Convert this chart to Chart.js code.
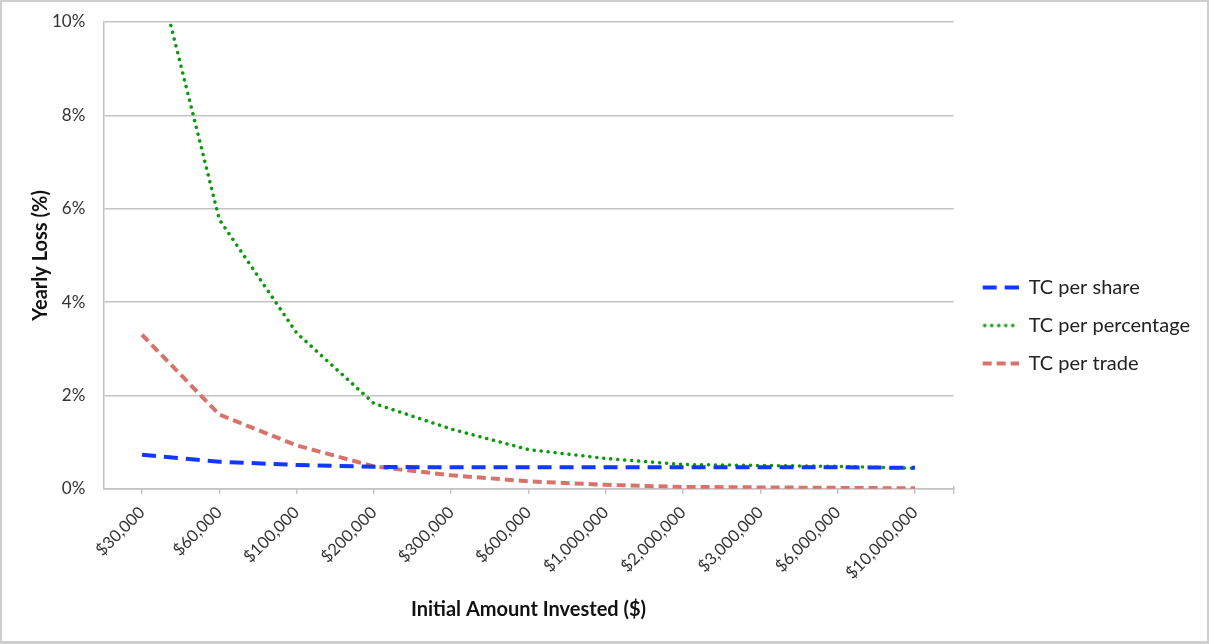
<!DOCTYPE html>
<html>
<head>
<meta charset="utf-8">
<title>Yearly Loss by Initial Amount Invested</title>
<script src="https://cdn.jsdelivr.net/npm/chart.js@4/dist/chart.umd.min.js"></script>
<style>
  html, body { margin: 0; padding: 0; background: #fff; }
  #wrap { position: relative; width: 1209px; height: 644px; }
  #frame {
    position: absolute; left: 0; top: 0; right: 0; bottom: 0;
    border: 2px solid #cfcfcf; border-bottom-width: 3px;
    box-sizing: border-box; pointer-events: none;
  }
</style>
</head>
<body>
<div id="wrap">
  <canvas id="lossChart" width="1209" height="644"></canvas>
  <div id="frame"></div>
</div>
<script>
// initial amounts (x categories)
const amounts = ['$30,000', '$60,000', '$100,000', '$200,000', '$300,000', '$600,000',
                 '$1,000,000', '$2,000,000', '$3,000,000', '$6,000,000', '$10,000,000'];

// yearly loss in percent for each cost model
const perShare      = [0.73, 0.58, 0.51, 0.47, 0.46, 0.46, 0.46, 0.46, 0.46, 0.46, 0.45];
const perPercentage = [12.4, 5.77, 3.34, 1.83, 1.28, 0.84, 0.65, 0.52, 0.50, 0.48, 0.44];
const perTrade      = [3.30, 1.59, 0.93, 0.48, 0.29, 0.16, 0.085, 0.04, 0.03, 0.02, 0.01];

// y axis ticks (%)
const yTicks = [0, 2, 4, 6, 8, 10];

const FONT = 'Lato, "Open Sans", sans-serif';
const GRID = '#c3c3c3';

// legend swatch: blank strip on the left (keeps the legend clear of the plot),
// then a short piece of line with the series dash
const SWATCH_GAP = 11;
const SWATCH_LEN = 36;

function lineSample(color, dash, width, cap) {
    const c = document.createElement('canvas');
    c.width = SWATCH_GAP + SWATCH_LEN;
    c.height = 8;
    const g = c.getContext('2d');
    g.strokeStyle = color;
    g.lineWidth = width;
    g.lineCap = cap;
    g.setLineDash(dash);
    g.beginPath();
    g.moveTo(SWATCH_GAP + (cap === 'round' ? 2 : 0), 4);
    g.lineTo(c.width, 4);
    g.stroke();
    return c;
}

const series = [
    { label: 'TC per share',      data: perShare,      color: '#1238ff', dash: [14, 8],    width: 4,   cap: 'butt' },
    { label: 'TC per percentage', data: perPercentage, color: '#0b9a0b', dash: [0.1, 6.9], width: 3.5, cap: 'round' },
    { label: 'TC per trade',      data: perTrade,      color: '#d8736b', dash: [9, 5],     width: 4,   cap: 'butt' }
];

const datasets = series.map(s => ({
    label: s.label,
    data: s.data,
    borderColor: s.color,
    backgroundColor: s.color,
    borderWidth: s.width,
    borderDash: s.dash,
    borderCapStyle: s.cap,
    pointRadius: 0,
    pointHoverRadius: 0,
    tension: 0,
    fill: false,
    pointStyle: lineSample(s.color, s.dash, s.width, s.cap)
}));

// closing tick at the right end of the x axis
const endTick = {
    id: 'endTick',
    afterDraw(chart) {
        const { ctx, chartArea } = chart;
        ctx.save();
        ctx.strokeStyle = GRID;
        ctx.lineWidth = 1.5;
        ctx.beginPath();
        ctx.moveTo(chartArea.right, chartArea.bottom - 3);
        ctx.lineTo(chartArea.right, chartArea.bottom + 5);
        ctx.stroke();
        ctx.restore();
    }
};

new Chart(document.getElementById('lossChart'), {
    type: 'line',
    data: { labels: amounts, datasets: datasets },
    options: {
        responsive: false,
        animation: false,
        layout: { padding: { top: 3, left: 29, right: 9, bottom: 22 } },
        plugins: {
            tooltip: { enabled: false },
            legend: {
                position: 'right',
                align: 'center',
                // empty title only pushes the entries down a little
                title: { display: true, text: '', padding: 0, font: { size: 10, lineHeight: 2.6 } },
                labels: {
                    usePointStyle: true,
                    pointStyleWidth: SWATCH_GAP + SWATCH_LEN,
                    padding: 18,
                    color: '#222',
                    font: { family: FONT, size: 20 }
                }
            }
        },
        scales: {
            x: {
                offset: true,
                grid: {
                    offset: false,
                    drawOnChartArea: false,
                    drawTicks: true,
                    tickLength: 5,
                    color: GRID,
                    lineWidth: 1.5
                },
                border: { color: GRID, width: 1.5 },
                ticks: {
                    minRotation: 45,
                    maxRotation: 45,
                    autoSkip: false,
                    padding: 9,
                    color: '#333',
                    font: { family: FONT, size: 16.5 }
                },
                title: {
                    display: true,
                    text: 'Initial Amount Invested ($)',
                    color: '#111',
                    padding: { top: 6, bottom: 0 },
                    font: { family: FONT, size: 20, weight: 'bold' }
                }
            },
            y: {
                min: yTicks[0],
                max: yTicks[yTicks.length - 1],
                afterBuildTicks: axis => { axis.ticks = yTicks.map(v => ({ value: v })); },
                afterFit: axis => {
                    axis.width -= 19;
                    axis.paddingTop = 22;
                },
                grid: { color: GRID, lineWidth: 1.5, drawTicks: false },
                border: { color: GRID, width: 1.5 },
                ticks: {
                    padding: 18,
                    color: '#333',
                    font: { family: FONT, size: 17 },
                    callback: v => v + '%'
                },
                title: {
                    display: true,
                    text: 'Yearly Loss (%)',
                    color: '#111',
                    padding: { top: 0, bottom: 0 },
                    font: { family: FONT, size: 20, weight: 'bold' }
                }
            }
        }
    },
    plugins: [endTick]
});
</script>
</body>
</html>
